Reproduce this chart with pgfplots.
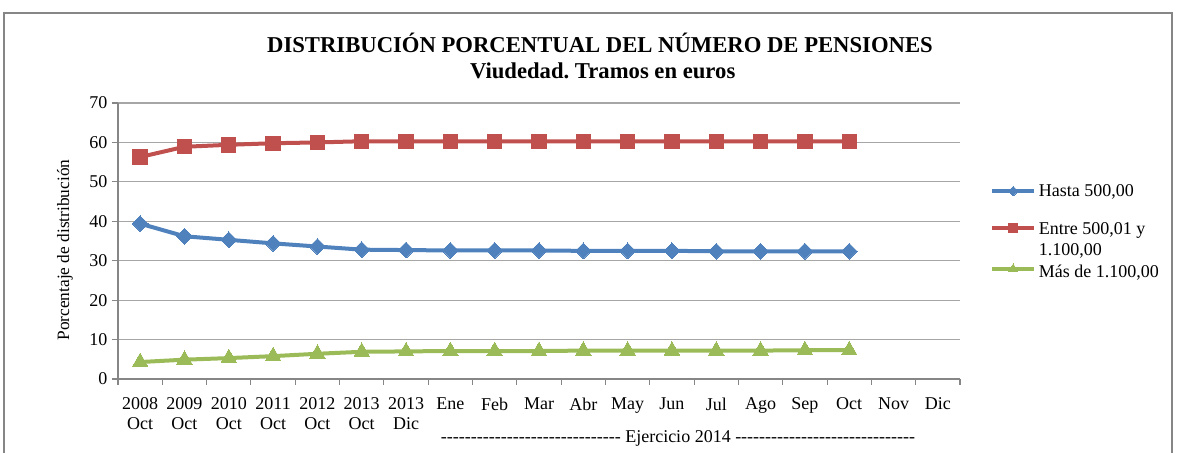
\documentclass[border=0pt]{standalone}
\usepackage{fontspec}
\setmainfont{Liberation Serif}
\usepackage{pgfplots}
\pgfplotsset{compat=1.18}
\definecolor{cblue}{HTML}{4F81BD}
\definecolor{cred}{HTML}{C0504D}
\definecolor{cgreen}{HTML}{9BBB59}
\definecolor{gridc}{HTML}{A6A6A6}
\definecolor{axc}{HTML}{868686}
\newcommand\dashrun{\foreach \i in {1,...,30}{-\kern0pt}}
\frenchspacing
\begin{document}
\begin{tikzpicture}[x=1pt,y=1pt]
\useasboundingbox (0,0) rectangle (883.5,339.75);
\draw[axc, line width=1.3pt] (3,-5) -- (3,330) -- (879,330) -- (879,-5);
\node[font=\bfseries\fontsize{17}{20}\selectfont, anchor=base, inner sep=0pt] at (450,300) {DISTRIBUCIÓN PORCENTUAL DEL NÚMERO DE PENSIONES};
\node[font=\bfseries\fontsize{17}{20}\selectfont, anchor=base, inner sep=0pt] at (452,280.5) {Viudedad. Tramos en euros};
\node[font=\fontsize{13.5}{15}\selectfont, anchor=base, inner sep=0pt] at (508.5,7.5) {\dashrun{} Ejercicio 2014 \dashrun};
\begin{axis}[
  at={(88.5pt,55.5pt)}, anchor=south west,
  scale only axis, width=631.5pt, height=207pt,
  xmin=-0.5, xmax=18.5, ymin=0, ymax=70,
  ytick={0,10,...,70},
  xtick={0,...,18},
  xticklabels={{2008\\Oct},{2009\\Oct},{2010\\Oct},{2011\\Oct},{2012\\Oct},{2013\\Oct},{2013\\Dic},Ene,Feb,Mar,Abr,May,Jun,Jul,Ago,Sep,Oct,Nov,Dic},
  minor xtick={-0.5,0.5,...,18.5},
  axis lines=left,
  axis line style={-, axc, line width=1pt},
  ymajorgrids, grid style={gridc, line width=0.9pt},
  tick align=outside,
  major x tick style={draw=none},
  minor x tick style={draw=axc, line width=0.8pt},
  minor tick length=4.5pt,
  ytick style={axc, line width=0.8pt},
  major tick length=4.5pt,
  /pgf/number format/assume math mode=true,
  tick label style={font=\fontsize{13.5}{14.6}\selectfont},
  xticklabel style={align=center, yshift=-6pt},
  ylabel={Porcentaje de distribución},
  ylabel style={font=\fontsize{13}{15}\selectfont, at={(axis description cs:-0.063,0.467)}, anchor=center},
  legend style={at={(1.0356,0.717)}, anchor=north west, draw=none, fill=none,
    font=\fontsize{13.5}{15.5}\selectfont, row sep=12.5pt, inner sep=0pt},
  legend cell align=left,
  legend image code/.code={\draw[mark repeat=2,mark phase=2] plot coordinates {(0pt,0pt) (15.75pt,0pt) (31.5pt,0pt)};},
  legend image post style={every mark/.append style={scale=0.6}},
]
\addplot[cblue, line width=3pt, mark=square*, mark size=4.2pt, mark options={rotate=45, line width=0pt}] coordinates {
(0,39.4) (1,36.2) (2,35.3) (3,34.4) (4,33.6) (5,32.8) (6,32.7) (7,32.6) (8,32.6) (9,32.6) (10,32.5) (11,32.5) (12,32.5) (13,32.4) (14,32.4) (15,32.4) (16,32.4)};
\addlegendentry{Hasta 500,00}
\addplot[cred, line width=3pt, mark=square*, mark size=5.4pt, mark options={line width=0pt}] coordinates {
(0,56.3) (1,58.9) (2,59.4) (3,59.8) (4,60.0) (5,60.3) (6,60.3) (7,60.3) (8,60.3) (9,60.3) (10,60.3) (11,60.3) (12,60.3) (13,60.3) (14,60.3) (15,60.3) (16,60.3)};
\addlegendentry{\begin{tabular}[t]{@{}l@{}}Entre 500,01 y\\1.100,00\end{tabular}}
\addplot[cgreen, line width=3pt, mark=triangle*, mark size=6.7pt, mark options={line width=0pt}] coordinates {
(0,4.3) (1,4.9) (2,5.3) (3,5.8) (4,6.4) (5,6.9) (6,7.0) (7,7.1) (8,7.1) (9,7.1) (10,7.2) (11,7.2) (12,7.2) (13,7.2) (14,7.2) (15,7.3) (16,7.3)};
\addlegendentry{\rule{0pt}{14.5pt}Más de 1.100,00}
\end{axis}
\end{tikzpicture}
\end{document}
